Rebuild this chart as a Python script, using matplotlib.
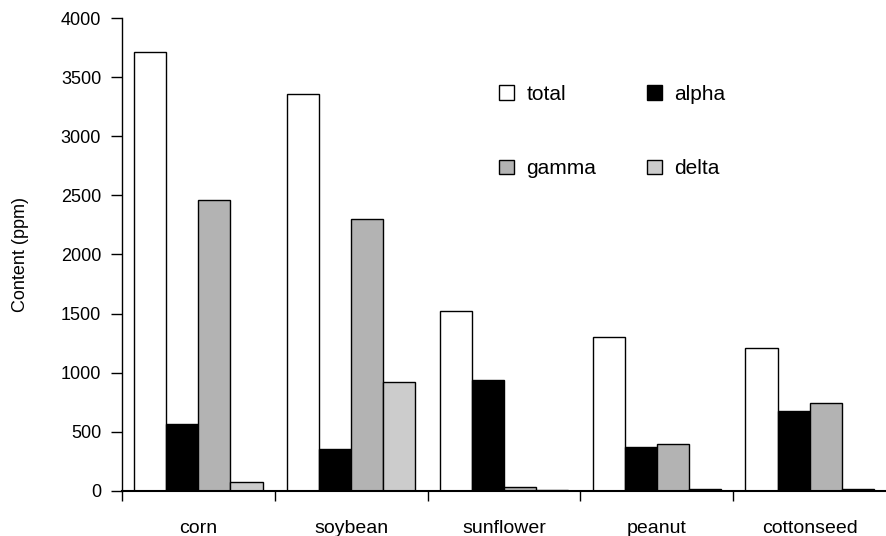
import numpy as np
import matplotlib.pyplot as plt
from matplotlib.ticker import FixedLocator

plt.rcParams['font.family'] = ['Liberation Sans', 'DejaVu Sans']

oils = ['corn', 'soybean', 'sunflower', 'peanut', 'cottonseed']
total = [3710, 3360, 1520, 1300, 1205]
alpha = [565, 355, 940, 370, 680]
gamma = [2465, 2300, 30, 395, 745]
delta = [75, 920, 5, 15, 15]

series = [('total', total, 'white'),
          ('alpha', alpha, 'black'),
          ('gamma', gamma, '#b3b3b3'),
          ('delta', delta, '#cccccc')]

fig = plt.figure(figsize=(8.86, 5.36), dpi=100)
ax = fig.add_axes([0.1377, 0.084, 0.8623, 0.8824])

x = np.arange(len(oils))
w = 0.21
bars = []
for j, (name, vals, col) in enumerate(series):
    b = ax.bar(x + (j - 1.5) * w, vals, w, color=col, edgecolor='black',
               linewidth=1, label=name)
    bars.append(b)

ax.set_xlim(-0.5, len(oils) - 0.5)
ax.set_ylim(0, 4000)
ax.set_yticks(np.arange(0, 4001, 500))
ax.tick_params(axis='y', direction='out', length=8, width=1, labelsize=13, pad=7)

# category boundaries as major ticks, names centered as minor labels
ax.xaxis.set_major_locator(FixedLocator(np.arange(len(oils)) - 0.5))
ax.xaxis.set_major_formatter(plt.NullFormatter())
ax.xaxis.set_minor_locator(FixedLocator(x))
ax.set_xticklabels(oils, minor=True)
ax.tick_params(axis='x', which='major', direction='out', length=7, width=1)
ax.tick_params(axis='x', which='minor', length=0, labelsize=14, pad=21)

for s in ['top', 'right']:
    ax.spines[s].set_visible(False)
ax.spines['left'].set_linewidth(1)
ax.spines['bottom'].set_linewidth(1.5)

ax.set_ylabel('Content (ppm)', fontsize=13, labelpad=23)

# row-major legend: total, alpha / gamma, delta
order = [0, 2, 1, 3]
ax.legend([bars[i] for i in order], [series[i][0] for i in order],
          loc='upper left', bbox_to_anchor=(0.4695, 0.898), ncol=2, frameon=False,
          fontsize=15, handlelength=0.7, handleheight=0.7, handletextpad=0.6,
          labelspacing=2.65, columnspacing=2.45)

plt.savefig('out.png', dpi=100)
